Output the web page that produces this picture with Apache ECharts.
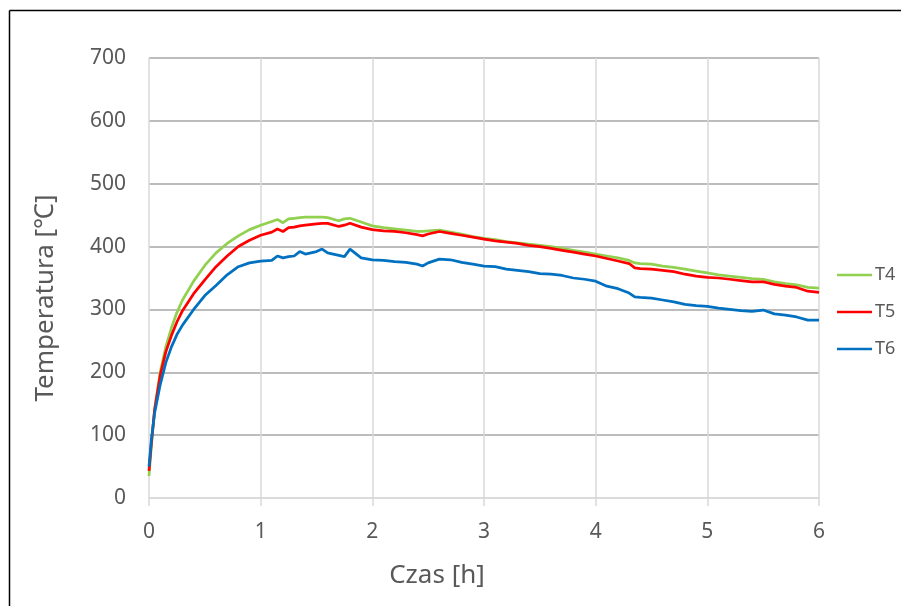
<!DOCTYPE html>
<html>
<head>
<meta charset="utf-8">
<title>Temperatura T4 T5 T6</title>
<script src="https://cdn.jsdelivr.net/npm/echarts@6/dist/echarts.min.js"></script>
<style>
    html, body { margin: 0; padding: 0; background: #fff; }
    #chart { width: 901px; height: 606px; }
</style>
</head>
<body>
<div id="chart"></div>
<script>
// czas [h]
var times = [0, 0.02, 0.05, 0.1, 0.15, 0.2, 0.25, 0.3, 0.4, 0.5, 0.6, 0.7, 0.8, 0.9, 1.0, 1.1, 1.15, 1.2, 1.25, 1.3,
    1.35, 1.4, 1.5, 1.55, 1.6, 1.7, 1.75, 1.8, 1.9, 2.0, 2.1, 2.2, 2.3, 2.4, 2.45, 2.5, 2.6, 2.7, 2.8, 2.9,
    3.0, 3.1, 3.2, 3.3, 3.4, 3.5, 3.6, 3.7, 3.8, 3.9, 4.0, 4.1, 4.2, 4.3, 4.35, 4.4, 4.5, 4.6, 4.7, 4.8,
    4.9, 5.0, 5.1, 5.2, 5.3, 5.4, 5.5, 5.6, 5.7, 5.8, 5.9, 6.0];

var t4 = [35, 80, 140, 200, 240, 270, 295, 315, 345, 370, 390, 405, 417, 427, 434, 440, 443, 438, 444, 445,
    446, 447, 447, 447, 446, 441, 444, 445, 439, 433, 430, 428, 426, 424, 424, 425, 426, 423, 420, 416,
    413, 411, 408, 406, 404, 402, 400, 397, 394, 391, 388, 385, 382, 378, 374, 373, 372, 369, 367, 364,
    361, 358, 355, 353, 351, 349, 348, 344, 341, 339, 335, 334];

var t5 = [43, 85, 140, 195, 232, 258, 280, 298, 325, 347, 368, 385, 400, 410, 418, 423, 428, 424, 430, 431,
    433, 434, 436, 437, 437, 432, 434, 437, 431, 427, 425, 424, 422, 419, 417, 420, 424, 421, 418, 415,
    412, 409, 407, 405, 402, 400, 397, 394, 391, 388, 385, 381, 377, 373, 366, 365, 364, 362, 360, 356,
    353, 351, 350, 348, 346, 344, 344, 340, 337, 335, 329, 327];

var t6 = [50, 90, 135, 180, 215, 240, 260, 275, 300, 322, 338, 355, 368, 374, 377, 378, 385, 382, 384, 385,
    392, 388, 392, 396, 390, 386, 384, 396, 382, 379, 378, 376, 375, 372, 369, 374, 380, 379, 375, 372,
    369, 368, 364, 362, 360, 357, 356, 354, 350, 348, 345, 337, 333, 326, 320, 319, 318, 315, 312, 308,
    306, 305, 302, 300, 298, 297, 299, 293, 291, 288, 283, 283];

var seriesNames = ['T4', 'T5', 'T6'];
var seriesColors = ['#92D050', '#FF0000', '#0070C0'];

function pairs(values) {
    return times.map(function (t, i) { return [t, values[i]]; });
}

var font = '"Noto Sans", "Open Sans", sans-serif';
var textColor = '#595959';

var chart = echarts.init(document.getElementById('chart'));

var option = {
    backgroundColor: '#fff',
    animation: false,
    textStyle: { fontFamily: font },
    grid: {
        left: 149,
        right: 82,
        top: 58,
        bottom: 108
    },
    legend: {
        orient: 'vertical',
        left: 832,
        top: 261,
        itemWidth: 35,
        itemHeight: 14,
        itemGap: 19,
        icon: 'path://M0,6 L35,6 L35,8.5 L0,8.5 Z',
        textStyle: { color: textColor, fontSize: 18, fontFamily: font, padding: [0, 0, 0, -2] },
        data: seriesNames
    },
    xAxis: {
        type: 'value',
        min: 0,
        max: 6,
        interval: 1,
        axisLine: { show: true, onZero: false, lineStyle: { color: '#d9d9d9', width: 1.5 } },
        axisTick: { show: true, length: 8, lineStyle: { color: '#d9d9d9', width: 1.5 } },
        axisLabel: { color: textColor, fontSize: 21, margin: 24 },
        splitLine: { show: true, lineStyle: { color: '#d9d9d9', width: 1.5 } }
    },
    yAxis: {
        type: 'value',
        min: 0,
        max: 700,
        interval: 100,
        axisLine: { show: false },
        axisTick: { show: false },
        axisLabel: { color: textColor, fontSize: 21, margin: 23 },
        splitLine: {
            show: true,
            lineStyle: {
                color: ['#d9d9d9', '#a6a6a6', '#a6a6a6', '#a6a6a6', '#a6a6a6', '#a6a6a6', '#a6a6a6', '#a6a6a6'],
                width: 1.5
            }
        }
    },
    graphic: [
        // ramka wykresu (tylko lewa i górna krawędź widoczna)
        { type: 'line', shape: { x1: 9.5, y1: 10.5, x2: 901, y2: 10.5 }, style: { stroke: '#000', lineWidth: 1.5 } },
        { type: 'line', shape: { x1: 9.5, y1: 10.5, x2: 9.5, y2: 606 }, style: { stroke: '#000', lineWidth: 1.5 } },
        {
            type: 'text',
            x: 46,
            y: 298,
            rotation: Math.PI / 2,
            style: {
                text: 'Temperatura [℃]',
                fill: textColor,
                font: '26px ' + font,
                align: 'center',
                verticalAlign: 'middle'
            }
        },
        {
            type: 'text',
            x: 437,
            y: 576,
            style: {
                text: 'Czas [h]',
                fill: textColor,
                font: '26px ' + font,
                align: 'center',
                verticalAlign: 'middle'
            }
        }
    ],
    series: seriesNames.map(function (name, i) {
        return {
            name: name,
            type: 'line',
            data: pairs([t4, t5, t6][i]),
            symbol: 'none',
            smooth: false,
            color: seriesColors[i],
            lineStyle: { width: 2.75, color: seriesColors[i] }
        };
    })
};

chart.setOption(option);
</script>
</body>
</html>
